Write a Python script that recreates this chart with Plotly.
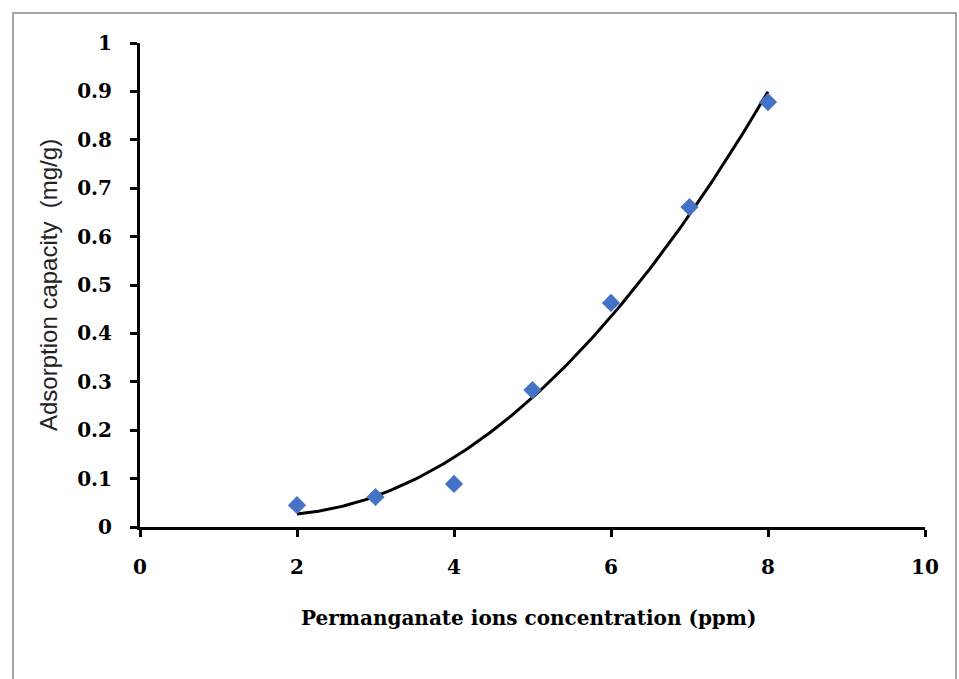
import numpy as np
import plotly.graph_objects as go

# Data
conc_ppm = [2, 3, 4, 5, 6, 7, 8]
adsorption = [0.045, 0.062, 0.089, 0.283, 0.463, 0.661, 0.878]

x_title = "Permanganate ions concentration (ppm)"
y_title = "Adsorption capacity  (mg/g)"

# Polynomial (order 2) trend line, as fitted by the spreadsheet
coef = np.polyfit(conc_ppm, adsorption, 2)
xt = np.linspace(min(conc_ppm), max(conc_ppm), 200)
yt = np.polyval(coef, xt)

fig = go.Figure()
fig.add_trace(go.Scatter(x=xt, y=yt, mode="lines",
                         line=dict(color="black", width=3), hoverinfo="skip"))
fig.add_trace(go.Scatter(x=conc_ppm, y=adsorption, mode="markers",
                         marker=dict(symbol="diamond", size=14, color="#4472C4")))

tickfont = dict(family="DejaVu Serif", size=20, color="black", weight="bold")

fig.update_layout(
    width=959, height=679,
    margin=dict(l=140, r=34, t=43, b=152),
    paper_bgcolor="white", plot_bgcolor="white",
    showlegend=False,
    xaxis=dict(range=[0, 10], dtick=2, tick0=0, showgrid=False, zeroline=False,
               showline=True, linecolor="black", linewidth=3,
               ticks="outside", ticklen=7, tickwidth=2.5, tickcolor="black",
               tickfont=tickfont, ticklabelstandoff=13),
    yaxis=dict(range=[0, 1], dtick=0.1, tick0=0, showgrid=False, zeroline=False,
               showline=True, linecolor="black", linewidth=3,
               ticks="outside", ticklen=7, tickwidth=2.5, tickcolor="black",
               tickfont=tickfont, ticklabelstandoff=14),
    annotations=[
        dict(text="<b>" + x_title + "</b>", xref="paper", yref="paper",
             x=0.4955, y=(527 - 618) / 484, xanchor="center", yanchor="middle",
             showarrow=False, font=dict(family="DejaVu Serif", size=20, color="black")),
        dict(text=y_title, xref="paper", yref="paper",
             x=(48 - 140) / 785, y=0.5, xanchor="center", yanchor="middle",
             textangle=-90, showarrow=False,
             font=dict(family="Liberation Sans", size=24, color="#222222")),
    ],
    shapes=[
        dict(type="rect", xref="paper", yref="paper",
             x0=(13 - 140) / 785, x1=(956 - 140) / 785,
             y0=(527 - 700) / 484, y1=(527 - 13) / 484,
             line=dict(color="#A6A6A6", width=2), fillcolor="rgba(0,0,0,0)",
             layer="below"),
    ],
)

fig.write_html("out.html")
